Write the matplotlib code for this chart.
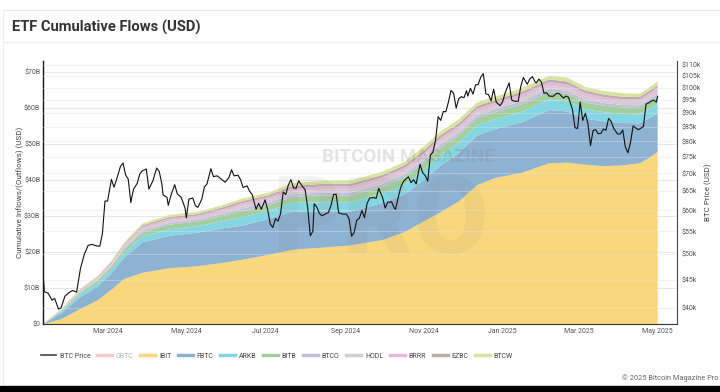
import pandas as pd
import matplotlib
matplotlib.use('Agg')
import matplotlib.pyplot as plt
import matplotlib.dates as mdates
from matplotlib.lines import Line2D
from matplotlib.patches import Rectangle
from matplotlib.ticker import FixedLocator, NullLocator

plt.rcParams['font.family'] = ['Roboto', 'DejaVu Sans']

# cumulative flows per ETF, $B
flow_dates = ["2024-01-11", "2024-01-25", "2024-02-08", "2024-02-22", "2024-03-04", "2024-03-14",
              "2024-03-28", "2024-04-18", "2024-05-09", "2024-05-30", "2024-06-13", "2024-07-04",
              "2024-07-22", "2024-08-15", "2024-09-05", "2024-09-30", "2024-10-17", "2024-11-01",
              "2024-11-14", "2024-11-28", "2024-12-12", "2024-12-26", "2025-01-16", "2025-02-06",
              "2025-02-20", "2025-03-06", "2025-03-20", "2025-04-03", "2025-04-17", "2025-04-24",
              "2025-05-01"]
ibit = [0, 1.3, 4.0, 6.5, 9.5, 12.5, 14.2, 15.5, 16.0, 17.0, 17.8, 19.2, 20.6, 21.2, 21.8, 23.3,
        25.5, 28.5, 31.0, 34.0, 38.5, 40.5, 42.0, 44.6, 44.8, 44.2, 43.8, 44.0, 44.6, 46.0, 47.8]
fbtc = [0, 1.6, 3.3, 3.8, 4.5, 6.0, 8.5, 9.0, 9.3, 9.6, 9.5, 10.0, 10.6, 10.0, 9.4, 10.3,
        10.5, 11.5, 13.0, 13.5, 13.8, 13.6, 14.0, 14.8, 14.2, 12.8, 12.5, 11.8, 11.1, 11.0, 10.7]
arkb = [0, 0.4, 0.7, 0.9, 1.1, 1.3, 1.6, 1.8, 1.8, 2.0, 2.3, 2.2, 2.4, 2.6, 2.6, 2.6,
        2.7, 2.8, 2.9, 2.8, 2.8, 2.7, 2.9, 2.9, 2.8, 2.6, 2.5, 2.5, 2.5, 2.6, 2.6]
bitb = [0, 0.3, 0.5, 0.7, 0.8, 0.9, 1.1, 1.3, 1.3, 1.4, 1.7, 1.6, 1.7, 1.9, 1.9, 1.9,
        2.0, 2.0, 2.1, 2.0, 2.0, 2.0, 2.1, 2.1, 2.1, 1.9, 1.8, 1.8, 1.8, 1.9, 1.9]
btco = [0, 0.1, 0.2, 0.3, 0.3, 0.4, 0.5, 0.5, 0.5, 0.6, 0.7, 0.7, 0.7, 0.8, 0.8, 0.8,
        0.8, 0.8, 0.9, 0.8, 0.8, 0.8, 0.9, 0.9, 0.8, 0.8, 0.8, 0.7, 0.7, 0.8, 0.8]
hodl = [0, 0.1, 0.2, 0.3, 0.3, 0.4, 0.5, 0.5, 0.5, 0.6, 0.7, 0.7, 0.7, 0.8, 0.8, 0.8,
        0.8, 0.8, 0.8, 0.8, 0.8, 0.8, 0.8, 0.8, 0.8, 0.8, 0.7, 0.7, 0.7, 0.7, 0.8]
brrr = [0, 0.1, 0.2, 0.3, 0.4, 0.5, 0.6, 0.6, 0.6, 0.7, 0.8, 0.8, 0.9, 0.9, 0.9, 1.0,
        1.0, 1.0, 1.0, 1.0, 1.0, 1.0, 1.0, 1.0, 1.0, 1.0, 0.9, 0.9, 0.9, 0.9, 1.0]
ezbc = [0, 0.1, 0.2, 0.2, 0.3, 0.3, 0.4, 0.5, 0.5, 0.6, 0.6, 0.6, 0.7, 0.7, 0.7, 0.7,
        0.8, 0.8, 0.8, 0.8, 0.8, 0.8, 0.8, 0.8, 0.8, 0.7, 0.7, 0.7, 0.7, 0.7, 0.7]
btcw = [0, 0.1, 0.2, 0.3, 0.3, 0.4, 0.5, 0.6, 0.6, 0.6, 0.7, 0.7, 0.8, 0.8, 0.9, 0.9,
        0.9, 1.1, 1.0, 1.1, 1.0, 0.9, 1.0, 1.0, 1.1, 1.0, 1.0, 1.0, 0.9, 0.9, 1.0]

# BTC price, $k
price_dates = [
    "2024-01-11", "2024-01-12", "2024-01-15", "2024-01-18", "2024-01-20", "2024-01-23", "2024-01-25",
    "2024-01-28", "2024-01-31", "2024-02-03", "2024-02-06", "2024-02-09", "2024-02-12", "2024-02-15",
    "2024-02-18", "2024-02-21", "2024-02-24", "2024-02-26", "2024-02-28", "2024-03-01", "2024-03-04",
    "2024-03-06", "2024-03-08", "2024-03-11", "2024-03-13", "2024-03-15", "2024-03-17", "2024-03-19",
    "2024-03-21", "2024-03-24", "2024-03-26", "2024-03-28", "2024-03-31", "2024-04-02", "2024-04-05",
    "2024-04-08", "2024-04-10", "2024-04-12", "2024-04-13", "2024-04-16", "2024-04-17", "2024-04-19",
    "2024-04-22", "2024-04-24", "2024-04-27", "2024-04-30", "2024-05-01", "2024-05-03", "2024-05-06",
    "2024-05-08", "2024-05-10", "2024-05-13", "2024-05-15", "2024-05-17", "2024-05-20", "2024-05-22",
    "2024-05-25", "2024-05-28", "2024-05-31", "2024-06-03", "2024-06-05", "2024-06-07", "2024-06-10",
    "2024-06-12", "2024-06-14", "2024-06-17", "2024-06-19", "2024-06-21", "2024-06-24", "2024-06-26",
    "2024-06-28", "2024-07-01", "2024-07-03", "2024-07-05", "2024-07-07", "2024-07-09", "2024-07-11",
    "2024-07-13", "2024-07-15", "2024-07-17", "2024-07-19", "2024-07-21", "2024-07-23", "2024-07-25",
    "2024-07-27", "2024-07-29", "2024-08-01", "2024-08-03", "2024-08-05", "2024-08-07", "2024-08-08",
    "2024-08-10", "2024-08-12", "2024-08-14", "2024-08-16", "2024-08-19", "2024-08-21", "2024-08-23",
    "2024-08-25", "2024-08-27", "2024-08-30", "2024-09-02", "2024-09-04", "2024-09-06", "2024-09-08",
    "2024-09-10", "2024-09-12", "2024-09-14", "2024-09-16", "2024-09-18", "2024-09-20", "2024-09-23",
    "2024-09-25", "2024-09-27", "2024-09-30", "2024-10-02", "2024-10-04", "2024-10-07", "2024-10-09",
    "2024-10-10", "2024-10-12", "2024-10-14", "2024-10-16", "2024-10-18", "2024-10-20", "2024-10-22",
    "2024-10-24", "2024-10-26", "2024-10-29", "2024-10-31", "2024-11-02", "2024-11-04", "2024-11-06",
    "2024-11-08", "2024-11-10", "2024-11-12", "2024-11-14", "2024-11-16", "2024-11-18", "2024-11-20",
    "2024-11-22", "2024-11-24", "2024-11-26", "2024-11-28", "2024-11-30", "2024-12-02", "2024-12-04",
    "2024-12-05", "2024-12-07", "2024-12-09", "2024-12-11", "2024-12-13", "2024-12-15", "2024-12-17",
    "2024-12-19", "2024-12-21", "2024-12-23", "2024-12-25", "2024-12-27", "2024-12-30", "2025-01-01",
    "2025-01-03", "2025-01-06", "2025-01-08", "2025-01-10", "2025-01-13", "2025-01-15", "2025-01-17",
    "2025-01-20", "2025-01-22", "2025-01-24", "2025-01-26", "2025-01-27", "2025-01-29", "2025-01-31",
    "2025-02-02", "2025-02-04", "2025-02-06", "2025-02-09", "2025-02-12", "2025-02-14", "2025-02-17",
    "2025-02-19", "2025-02-21", "2025-02-24", "2025-02-26", "2025-02-28", "2025-03-02", "2025-03-04",
    "2025-03-06", "2025-03-08", "2025-03-10", "2025-03-12", "2025-03-14", "2025-03-16", "2025-03-18",
    "2025-03-20", "2025-03-22", "2025-03-24", "2025-03-26", "2025-03-28", "2025-03-31", "2025-04-02",
    "2025-04-04", "2025-04-06", "2025-04-08", "2025-04-10", "2025-04-12", "2025-04-14", "2025-04-16",
    "2025-04-18", "2025-04-20", "2025-04-22", "2025-04-24", "2025-04-26", "2025-04-28", "2025-04-30",
    "2025-05-01"]
btc_price = [
    46.6, 42.8, 42.5, 41.3, 41.6, 39.8, 40.0,
    42.0, 42.6, 43.0, 42.7, 47.1, 50.0, 51.9,
    52.1, 51.8, 51.7, 54.5, 62.4, 62.4, 68.3,
    66.1, 68.3, 72.1, 73.1, 69.5, 68.4, 62.0,
    65.5, 67.2, 69.9, 70.8, 71.3, 65.6, 67.8,
    71.6, 70.6, 67.1, 64.0, 63.4, 61.3, 63.8,
    66.8, 64.3, 63.4, 60.6, 58.2, 62.9, 63.2,
    61.2, 60.8, 62.9, 66.2, 67.0, 71.4, 69.1,
    69.3, 68.4, 67.5, 68.8, 71.1, 69.3, 69.5,
    68.2, 66.0, 66.5, 65.0, 64.1, 60.3, 61.8,
    60.3, 62.7, 60.2, 56.7, 55.9, 58.0, 57.4,
    59.2, 64.8, 64.1, 66.7, 68.2, 65.9, 65.8,
    67.9, 66.8, 65.4, 60.7, 54.0, 55.0, 61.7,
    60.9, 59.3, 58.7, 59.0, 59.5, 61.2, 64.1,
    64.2, 59.4, 59.1, 59.1, 58.0, 53.9, 54.8,
    57.6, 58.1, 60.0, 58.2, 61.8, 63.2, 63.3,
    63.1, 65.8, 63.3, 60.6, 62.1, 62.2, 60.6,
    60.3, 63.2, 66.0, 67.6, 68.4, 69.0, 67.4,
    68.2, 67.0, 72.7, 70.2, 69.4, 67.8, 75.6,
    76.5, 80.4, 88.7, 87.3, 90.6, 90.5, 94.3,
    98.9, 97.7, 91.9, 95.6, 96.4, 95.9, 98.8,
    96.6, 99.8, 97.4, 101.2, 101.4, 104.5, 106.1,
    97.5, 97.2, 94.7, 99.4, 94.2, 92.8, 94.4,
    98.1, 102.1, 95.0, 94.6, 94.5, 100.5, 104.4,
    101.5, 103.7, 104.8, 102.6, 102.0, 103.7, 102.4,
    97.7, 98.0, 96.6, 96.5, 97.8, 97.5, 95.8,
    96.6, 96.1, 91.4, 84.7, 84.4, 94.2, 87.3,
    89.9, 86.2, 78.6, 83.7, 84.0, 82.6, 82.7,
    84.2, 83.8, 88.0, 86.9, 84.4, 82.5, 82.5,
    83.9, 78.2, 76.3, 79.6, 85.3, 84.6, 84.0,
    84.5, 85.1, 93.4, 93.9, 94.6, 95.0, 94.2,
    96.5]

etf_names = ["IBIT", "FBTC", "ARKB", "BITB", "BTCO", "HODL", "BRRR", "EZBC", "BTCW"]
etf_colors = ["#f9d77c", "#8eb2d2", "#83d6e2", "#a3cf9f", "#c2bedb", "#cfcfcf", "#e8b9d8", "#bcaeae", "#d9e3a0"]
gbtc_color = "#f1cbd4"

left_ticks = [0, 10, 20, 30, 40, 50, 60, 70]
price_ticks = [40, 45, 50, 55, 60, 65, 70, 75, 80, 85, 90, 95, 100, 105, 110]

fd = pd.to_datetime(flow_dates)
pd_ = pd.to_datetime(price_dates)

fig = plt.figure(figsize=(7.2, 3.92), dpi=100)
fig.patch.set_facecolor('white')

W, H = 720, 392
ax = fig.add_axes([43 / W, 1 - 324 / H, (677 - 43) / W, (324 - 61) / H])
ax.stackplot(fd, ibit, fbtc, arkb, bitb, btco, hodl, brrr, ezbc, btcw,
             colors=etf_colors, linewidth=0, zorder=2)
ax.set_ylim(0, 73)
ax.set_xlim(pd.Timestamp("2024-01-11"), pd.Timestamp("2025-05-16"))
ax.set_yticks(left_ticks)
ax.set_yticklabels(["$0" if v == 0 else f"${v}B" for v in left_ticks])
ax.yaxis.grid(True, color='#e4e4e4', lw=0.6)
ax.set_axisbelow(True)
ax.xaxis.set_major_locator(mdates.MonthLocator(bymonth=[1, 3, 5, 7, 9, 11]))
ax.xaxis.set_major_formatter(mdates.DateFormatter('%b %Y'))
ax.tick_params(labelsize=5, colors='#555555', length=0, pad=3)
ax.tick_params(axis='y', pad=2)
for s in ['top', 'right']:
    ax.spines[s].set_visible(False)
ax.spines['left'].set_color('#111111')
ax.spines['bottom'].set_color('#333333')
ax.spines['left'].set_linewidth(1.0)
ax.spines['bottom'].set_linewidth(0.8)
ax.set_ylabel("Cumulative Inflows/(Outflows) (USD)", fontsize=5.8, color='#444444', labelpad=0)

# watermark
ax.text(409 / W, 1 - 157 / H, "BITCOIN MAGAZINE", transform=fig.transFigure, ha='center', va='center',
        fontsize=13.5, fontweight='bold', color='#808080', alpha=0.22, zorder=3)
ax.text(380 / W, 1 - 172 / H, "PRO", transform=fig.transFigure, ha='center', va='top',
        fontsize=78, fontweight='heavy', color='#808080', alpha=0.09, zorder=3)

ax2 = ax.twinx()
ax2.plot(pd_, btc_price, color='#111111', lw=0.8)
ax2.set_yscale('log')
ax2.set_ylim(37.4, 111.8)
ax2.yaxis.set_major_locator(FixedLocator(price_ticks))
ax2.yaxis.set_minor_locator(NullLocator())
ax2.set_yticklabels([f"${v}k" for v in price_ticks])
ax2.yaxis.grid(True, color='#e4e4e4', lw=0.6, alpha=0.5)
ax2.tick_params(labelsize=5, colors='#555555', length=0, pad=3)
for s in ['top', 'left', 'bottom']:
    ax2.spines[s].set_visible(False)
ax2.spines['right'].set_color('#444444')
ax2.spines['right'].set_linewidth(0.8)
ax2.set_ylabel("BTC Price (USD)", fontsize=5.8, color='#444444', labelpad=3)

# legend
handles = [Line2D([], [], color='#444444', lw=1.2), Line2D([], [], color=gbtc_color, lw=2.5)]
handles += [Line2D([], [], color=c, lw=2.5) for c in etf_colors]
labels = ["BTC Price", "GBTC"] + etf_names
leg = fig.legend(handles, labels, loc='center left', bbox_to_anchor=(41 / W, 1 - 356 / H),
                 ncol=11, frameon=False, fontsize=5.0, handlelength=2.2, handletextpad=0.5,
                 columnspacing=0.95, borderaxespad=0, borderpad=0)
for t in leg.get_texts():
    t.set_color('#444444')
leg.get_texts()[1].set_color('#b5b5b5')

# card frame / header
fig.add_artist(Line2D([3 / W, 1], [1 - 10 / H, 1 - 10 / H], color='#e8e8e8', lw=0.8))
fig.add_artist(Line2D([3 / W, 3 / W], [1 - 10 / H, 0.02], color='#eeeeee', lw=0.8))
fig.add_artist(Line2D([3 / W, 1], [1 - 42 / H, 1 - 42 / H], color='#ececec', lw=0.8))
fig.text(12 / W, 1 - 27 / H, "ETF Cumulative Flows (USD)", fontsize=10.6, fontweight='bold',
         color='#333333', va='center')
fig.text(718 / W, 1 - 378 / H, "© 2025 Bitcoin Magazine Pro", fontsize=5.3, color='#666666',
         ha='right', va='center')
fig.add_artist(Rectangle((0, 0), 1, 6 / H, transform=fig.transFigure, color='black'))

fig.savefig('out.png', dpi=100)
